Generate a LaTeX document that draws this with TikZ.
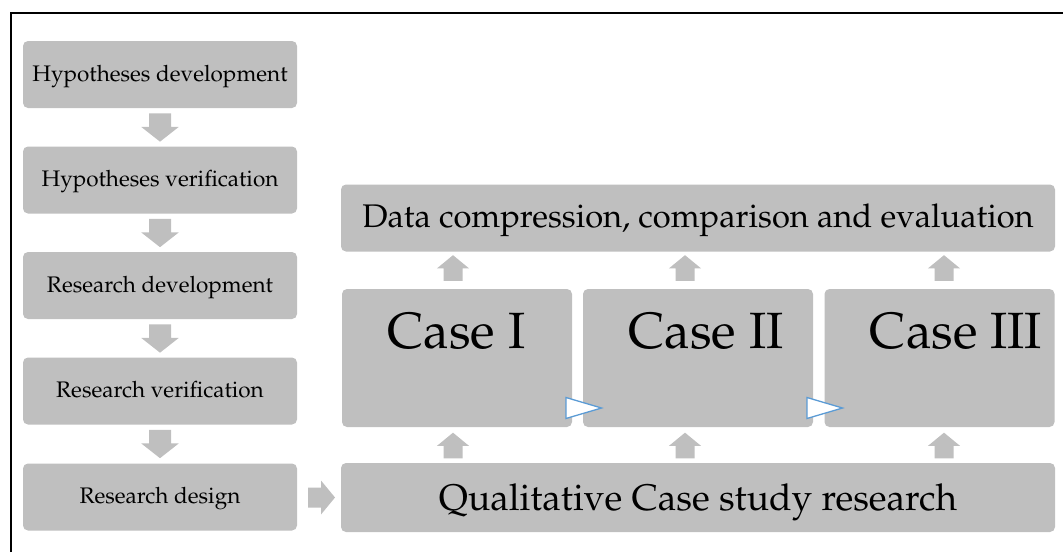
\documentclass[tikz,border=0pt]{standalone}
\usepackage[T1]{fontenc}
\renewcommand{\rmdefault}{ppl}
\definecolor{boxgray}{HTML}{BFBFBF}
\definecolor{tipblue}{HTML}{5B9BD5}
\tikzset{
  box/.style={fill=boxgray, draw=none, rounded corners=5pt, inner sep=0pt, text=black},
  leftbox/.style={box, minimum width=274pt, minimum height=67pt,
    text height=13.5pt, text depth=0pt, font=\fontsize{22.5}{26}\selectfont},
  casebox/.style={box, minimum width=230pt, minimum height=138pt},
  casetext/.style={anchor=base, inner sep=0pt, font=\fontsize{51}{60}\selectfont},
  pics/blockarrow/.style={code={
    \fill[boxgray] (13.5,0) -- (-0.5,17) -- (-0.5,10) -- (-13.5,10)
      -- (-13.5,-10) -- (-0.5,-10) -- (-0.5,-17) -- cycle;
  }},
  flowtip/.style={draw=tipblue, fill=white, line width=1.3pt, line join=miter}
}
\begin{document}
\begin{tikzpicture}[x=1pt, y=-1pt]
  \useasboundingbox (0,0) rectangle (1063,552);
  % frame (top and left edges)
  \draw[line width=2.2pt] (11,552) -- (11,13) -- (1063,13);

  % left column: research process
  \node[leftbox] (hd) at (160,74.5)  {Hypotheses development};
  \node[leftbox] (hv) at (160,180)   {Hypotheses verification};
  \node[leftbox] (rd) at (160,285.5) {Research development};
  \node[leftbox] (rv) at (160,391)   {Research verification};
  \node[leftbox] (rs) at (160,497)   {Research design};

  \foreach \y in {127.5,233,338.5,444}
    \pic[rotate=-90, xscale=1.05, yscale=1.1] at (160,\y) {blockarrow};

  % right part: case study structure
  \node[box, minimum width=714pt, minimum height=67pt,
        text height=18pt, text depth=0pt,
        font=\fontsize{32.7}{38}\selectfont] (dc) at (698,218)
        {Data compression, comparison and evaluation};

  \node[casebox] (c1) at (457,358) {};
  \node[casebox] (c2) at (698,358) {};
  \node[casebox] (c3) at (939.5,358) {};
  \node[casetext] (c1t) at (456.5,348) {Case I};
  \node[casetext] (c2t) at (706,348)   {Case II};
  \node[casetext] (c3t) at (956,348)   {Case III};

  \node[box, minimum width=714pt, minimum height=69pt,
        text height=25pt, text depth=0pt,
        font=\fontsize{37}{44}\selectfont] (qc) at (698,497.5)
        {Qualitative Case study research};

  % block arrows between the rows
  \foreach \x in {453,685,944} {
    \pic[rotate=90, xscale=0.95, yscale=0.95] at (\x,268) {blockarrow};
    \pic[rotate=90, xscale=0.95, yscale=0.95] at (\x,445.5) {blockarrow};
  }
  \pic at (321.5,497.5) {blockarrow};

  % sequence markers between the cases
  \draw[flowtip] (566,397.5) -- (601.5,408) -- (566,418.5) -- cycle;
  \draw[flowtip] (807,397.5) -- (842.5,408) -- (807,418.5) -- cycle;
\end{tikzpicture}
\end{document}
